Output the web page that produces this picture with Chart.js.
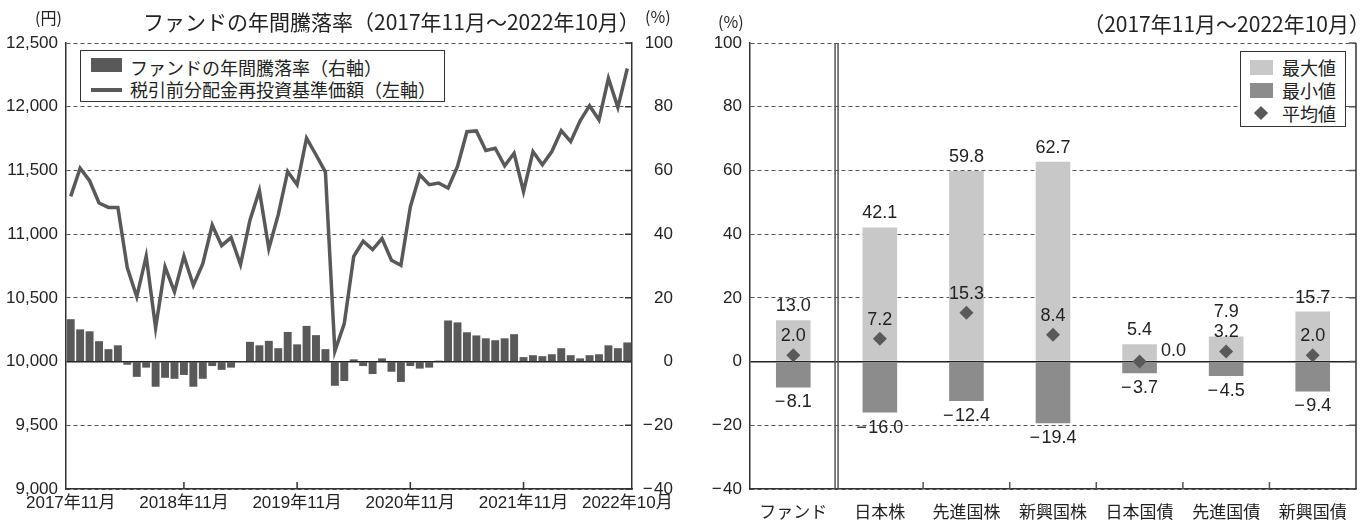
<!DOCTYPE html>
<html lang="ja">
<head>
<meta charset="utf-8">
<script src="https://cdn.jsdelivr.net/npm/chart.js@4.4.0/dist/chart.umd.min.js"></script>
<style>
  body { margin: 0; width: 1363px; height: 521px; background: #fff; overflow: hidden; position: relative;
    font-family: "Liberation Sans", "Noto Sans CJK JP", sans-serif; color: #222; }
  .abs { position: absolute; white-space: nowrap; line-height: 1; }
  .cjk { font-family: "Noto Sans CJK JP", sans-serif; }
  canvas { position: absolute; top: 0; }
  .legend { position: absolute; border: 1px solid #333; background: #fff; box-sizing: border-box; }
  .row { position: absolute; white-space: nowrap; line-height: 1; font-family: "Noto Sans CJK JP", sans-serif; }
</style>
</head>
<body>
<canvas id="leftChart" width="677" height="521" style="left:0"></canvas>
<canvas id="rightChart" width="663" height="521" style="left:700px"></canvas>

<div class="abs cjk" style="left:35px;top:9px;font-size:16px;">(円)</div>
<div class="abs cjk" style="left:143px;top:11px;font-size:21px;">ファンドの年間騰落率（2017年11月～2022年10月）</div>
<div class="abs cjk" style="left:645px;top:8px;font-size:16px;">(%)</div>
<div class="abs cjk" style="left:718px;top:13px;font-size:16px;">(%)</div>
<div class="abs cjk" style="right:-7px;top:13px;font-size:21px;">（2017年11月～2022年10月）</div>

<div class="legend" style="left:80px;top:50px;width:365px;height:52px;">
  <div class="row" style="left:10px;top:7px;width:31px;height:14px;background:#595959;"></div>
  <div class="row" style="left:49px;top:7px;font-size:18px;">ファンドの年間騰落率（右軸）</div>
  <div class="row" style="left:10px;top:37px;width:31px;height:4px;background:#595959;"></div>
  <div class="row" style="left:49px;top:29px;font-size:18px;">税引前分配金再投資基準価額（左軸）</div>
</div>

<div class="legend" style="left:1240px;top:51px;width:106px;height:76px;">
  <div class="row" style="left:9px;top:8px;width:23px;height:15px;background:#c8c8c8;"></div>
  <div class="row" style="left:41px;top:6px;font-size:18px;">最大値</div>
  <div class="row" style="left:9px;top:31px;width:23px;height:15px;background:#8c8c8c;"></div>
  <div class="row" style="left:41px;top:29px;font-size:18px;">最小値</div>
  <div class="row" style="left:15px;top:56px;width:10px;height:10px;background:#595959;transform:rotate(45deg);"></div>
  <div class="row" style="left:41px;top:52px;font-size:18px;">平均値</div>
</div>

<script>
// monthly NAV (yen, left axis) and 1-year return (%, right axis), 2017/11 - 2022/10
const navValues = [
  11296, 11518, 11419, 11244, 11210, 11210, 10735, 10508, 10827, 10265,
  10743, 10547, 10827, 10599, 10769, 11072, 10910, 10973, 10761, 11110,
  11343, 10886, 11153, 11492, 11388, 11753, 11623, 11487, 10082, 10299,
  10826, 10944, 10879, 10965, 10795, 10756, 11213, 11466, 11388, 11401,
  11361, 11531, 11804, 11810, 11656, 11674, 11536, 11635, 11335, 11648,
  11544, 11648, 11812, 11726, 11890, 12008, 11896, 12222, 11995, 12300
];
const annualReturns = [
  13.3, 10.1, 9.5, 6.4, 3.9, 5.1, -1.0, -4.8, -1.9, -7.9,
  -5.1, -5.4, -4.2, -7.9, -5.4, -1.4, -2.6, -1.9, 0.1, 6.2,
  5.1, 6.5, 4.2, 9.3, 5.4, 11.2, 8.3, 3.9, -7.6, -6.1,
  0.7, -1.4, -3.9, 1.0, -3.2, -6.4, -1.4, -2.2, -1.9, 0.3,
  12.9, 12.3, 9.2, 8.2, 7.3, 6.7, 7.3, 8.6, 1.4, 2.0,
  1.7, 2.3, 4.2, 2.0, 1.0, 2.0, 2.3, 5.1, 4.2, 6.0
];
const tickIndex = [0, 12, 24, 36, 48, 59];
const tickLabels = ['2017年11月', '2018年11月', '2019年11月', '2020年11月', '2021年11月', '2022年10月'];

// right panel: max / min / average of 1-year returns
const assetClasses = ['ファンド', '日本株', '先進国株', '新興国株', '日本国債', '先進国債', '新興国債'];
const maxReturns = [13.0, 42.1, 59.8, 62.7, 5.4, 7.9, 15.7];
const minReturns = [-8.1, -16.0, -12.4, -19.4, -3.7, -4.5, -9.4];
const avgReturns = [2.0, 7.2, 15.3, 8.4, 0.0, 3.2, 2.0];

const months = [];
for (let i = 0; i < navValues.length; i++) {
  const m = (10 + i) % 12 + 1;
  const y = 2017 + Math.floor((10 + i) / 12);
  months.push(y + '年' + m + '月');
}

const NUM = '"Liberation Sans", "Noto Sans CJK JP", sans-serif';
const CJK = '"Noto Sans CJK JP", sans-serif';
const DARK = '#595959';
const LIGHT = '#c8c8c8';
const MID = '#8c8c8c';
const AXIS = '#333';

const minus = v => v < 0 ? '\u2212\u200a' + Math.abs(v) : String(v);
const minus1 = v => v < 0 ? '\u2212\u200a' + Math.abs(v).toFixed(1) : v.toFixed(1);

// small inward tick marks
const leftExtras = {
  id: 'leftExtras',
  afterDraw(chart) {
    const { ctx, chartArea, scales } = chart;
    ctx.save();
    ctx.strokeStyle = AXIS;
    ctx.lineWidth = 1.5;
    ctx.beginPath();
    tickIndex.slice(1, -1).forEach(i => {
      const x = scales.x.getPixelForValue(i);
      ctx.moveTo(x, chartArea.bottom);
      ctx.lineTo(x, chartArea.bottom - 7);
    });
    scales.y2.ticks.forEach(t => {
      const y = scales.y2.getPixelForValue(t.value);
      ctx.moveTo(chartArea.right, y);
      ctx.lineTo(chartArea.right - 7, y);
    });
    ctx.stroke();
    ctx.restore();
  }
};

new Chart(document.getElementById('leftChart'), {
  type: 'bar',
  data: {
    labels: months,
    datasets: [
      {
        type: 'line',
        label: '税引前分配金再投資基準価額（左軸）',
        data: navValues,
        yAxisID: 'y',
        borderColor: DARK,
        borderWidth: 3.5,
        pointRadius: 0,
        tension: 0,
        order: 0
      },
      {
        type: 'bar',
        label: 'ファンドの年間騰落率（右軸）',
        data: annualReturns,
        yAxisID: 'y2',
        backgroundColor: DARK,
        barPercentage: 0.84,
        categoryPercentage: 1,
        order: 1
      }
    ]
  },
  options: {
    responsive: false,
    animation: false,
    layout: { padding: { top: 43 } },
    plugins: { legend: { display: false }, tooltip: { enabled: false } },
    scales: {
      x: {
        offset: true,
        grid: { display: false, drawTicks: false },
        border: { color: AXIS, width: 1.5 },
        ticks: {
          autoSkip: false,
          maxRotation: 0,
          padding: 4,
          color: '#222',
          font: { family: NUM, size: 17 },
          callback: (v, i) => {
            const k = tickIndex.indexOf(i);
            return k >= 0 ? tickLabels[k] : '';
          }
        },
        afterFit: s => { s.height = 32; }
      },
      y: {
        position: 'left',
        min: 9000,
        max: 12500,
        ticks: {
          stepSize: 500,
          padding: 8,
          color: '#222',
          font: { family: NUM, size: 17 },
          callback: v => v.toLocaleString('en-US')
        },
        grid: {
          drawTicks: false,
          color: c => (c.tick && c.tick.value === 10000) ? '#222' : '#555',
          lineWidth: c => (c.tick && c.tick.value === 10000) ? 1.5 : 1
        },
        border: {
          color: AXIS,
          width: 1.5,
          dash: c => (c.tick && c.tick.value === 10000) ? [] : [4, 3]
        },
        afterFit: s => { s.width = 66; }
      },
      y2: {
        position: 'right',
        min: -40,
        max: 100,
        ticks: {
          stepSize: 20,
          crossAlign: 'far',
          color: '#222',
          font: { family: NUM, size: 17 },
          callback: minus
        },
        grid: { drawOnChartArea: false, drawTicks: false },
        border: { color: AXIS, width: 1.5 },
        afterFit: s => { s.width = 41; }
      }
    }
  },
  plugins: [leftExtras]
});

const rightExtras = {
  id: 'rightExtras',
  afterDatasetsDraw(chart) {
    const { ctx, chartArea, scales } = chart;
    const xs = scales.x, ys = scales.y;
    ctx.save();
    // double rule between the fund and the asset classes
    const xb = (xs.getPixelForValue(0) + xs.getPixelForValue(1)) / 2;
    ctx.strokeStyle = '#555';
    ctx.lineWidth = 1.5;
    ctx.beginPath();
    [xb - 1.5, xb + 1.5].forEach(x => {
      ctx.moveTo(x, chartArea.top);
      ctx.lineTo(x, chartArea.bottom);
    });
    // inward ticks between categories and on the right edge
    for (let i = 1; i < assetClasses.length - 1; i++) {
      const x = (xs.getPixelForValue(i) + xs.getPixelForValue(i + 1)) / 2;
      ctx.moveTo(x, chartArea.bottom);
      ctx.lineTo(x, chartArea.bottom - 7);
    }
    ys.ticks.forEach(t => {
      const y = ys.getPixelForValue(t.value);
      ctx.moveTo(chartArea.right, y);
      ctx.lineTo(chartArea.right - 7, y);
    });
    ctx.stroke();
    ctx.strokeStyle = AXIS;
    ctx.beginPath();
    ctx.moveTo(chartArea.right, chartArea.top);
    ctx.lineTo(chartArea.right, chartArea.bottom);
    ctx.stroke();

    // value labels
    ctx.fillStyle = '#222';
    ctx.font = '18px ' + NUM;
    ctx.textAlign = 'center';
    ctx.textBaseline = 'middle';
    assetClasses.forEach((c, i) => {
      const x = xs.getPixelForValue(i);
      const yAvg = ys.getPixelForValue(avgReturns[i]);
      let ax = x, ay = yAvg - 19;
      if (avgReturns[i] === 0) { ax = x + 34; ay = yAvg - 11; }
      let my = ys.getPixelForValue(maxReturns[i]) - 14;
      if (my > ay - 20) my = ay - 20;
      const ny = ys.getPixelForValue(minReturns[i]) + 15;
      ctx.fillText(minus1(maxReturns[i]), x, my);
      ctx.fillText(minus1(avgReturns[i]), ax, ay);
      ctx.fillText(minus1(minReturns[i]), x, ny);
    });
    ctx.restore();
  }
};

new Chart(document.getElementById('rightChart'), {
  type: 'bar',
  data: {
    labels: assetClasses,
    datasets: [
      {
        label: '最大値',
        data: maxReturns.map(v => [0, v]),
        backgroundColor: LIGHT,
        barPercentage: 0.4,
        categoryPercentage: 1,
        grouped: false,
        order: 2
      },
      {
        label: '最小値',
        data: minReturns.map(v => [v, 0]),
        backgroundColor: MID,
        barPercentage: 0.4,
        categoryPercentage: 1,
        grouped: false,
        order: 2
      },
      {
        type: 'line',
        label: '平均値',
        data: avgReturns,
        showLine: false,
        pointStyle: 'rectRot',
        pointRadius: 7,
        backgroundColor: DARK,
        borderColor: DARK,
        borderWidth: 0,
        order: 0
      }
    ]
  },
  options: {
    responsive: false,
    animation: false,
    layout: { padding: { top: 43, right: 1 } },
    plugins: { legend: { display: false }, tooltip: { enabled: false } },
    scales: {
      x: {
        offset: true,
        grid: { display: false, drawTicks: false },
        border: { color: AXIS, width: 1.5 },
        ticks: { padding: 12, color: '#222', font: { family: CJK, size: 17 } },
        afterFit: s => { s.height = 32; }
      },
      y: {
        min: -40,
        max: 100,
        ticks: {
          stepSize: 20,
          padding: 8,
          color: '#222',
          font: { family: NUM, size: 17 },
          callback: minus
        },
        grid: {
          drawTicks: false,
          color: c => (c.tick && c.tick.value === 0) ? '#222' : '#555',
          lineWidth: c => (c.tick && c.tick.value === 0) ? 1.5 : 1
        },
        border: {
          color: AXIS,
          width: 1.5,
          dash: c => (c.tick && c.tick.value === 0) ? [] : [4, 3]
        },
        afterFit: s => { s.width = 50; }
      }
    }
  },
  plugins: [rightExtras]
});
</script>
</body>
</html>
